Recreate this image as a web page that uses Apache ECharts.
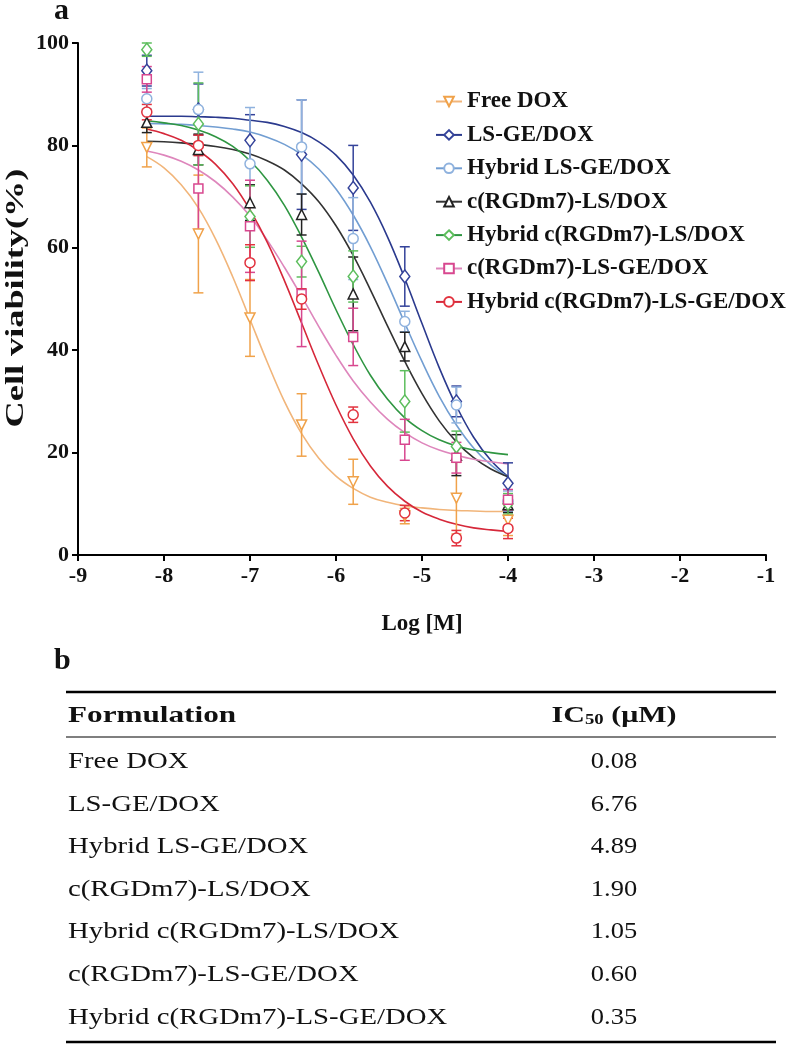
<!DOCTYPE html>
<html>
<head>
<meta charset="utf-8">
<script src="https://cdn.jsdelivr.net/npm/echarts@6/dist/echarts.min.js"></script>
<style>
html,body{margin:0;padding:0;background:#fff;}
#chart{width:800px;height:1045px;}
</style>
</head>
<body>
<div id="chart"></div>
<script>
// ---------- DATA ----------
const seriesNames = ['Free DOX', 'LS-GE/DOX', 'Hybrid LS-GE/DOX', 'c(RGDm7)-LS/DOX',
  'Hybrid c(RGDm7)-LS/DOX', 'c(RGDm7)-LS-GE/DOX', 'Hybrid c(RGDm7)-LS-GE/DOX'];
const logConc = [-8.2, -7.6, -7.0, -6.4, -5.8, -5.2, -4.6, -4.0];

const viabFreeDOX      = [79.6, 62.7, 46.3, 25.4, 14.3, 7.6, 11.1, 6.8];
const viabLSGE         = [94.6, 87.0, 81.0, 78.2, 71.7, 54.4, 30.0, 14.0];
const viabHybLSGE      = [89.1, 87.0, 76.4, 79.7, 61.8, 45.6, 29.3, 10.5];
const viabRGDLS        = [84.5, 79.2, 68.8, 66.5, 51.0, 40.7, 19.5, 9.8];
const viabHybRGDLS     = [98.7, 84.2, 66.1, 57.3, 54.4, 30.0, 21.2, 10.0];
const viabRGDLSGE      = [92.9, 71.6, 64.2, 51.0, 42.6, 22.5, 19.0, 10.8];
const viabHybRGDLSGE   = [86.5, 80.0, 57.1, 50.0, 27.4, 8.2, 3.3, 5.2];

const errFreeDOX       = [3.8, 11.5, 7.5, 6.1, 4.4, 1.5, 7.0, 3.0];
const errLSGE          = [3.0, 5.0, 5.0, 10.7, 8.3, 5.8, 3.0, 4.0];
const errHybLSGE       = [2.0, 7.3, 11.0, 9.2, 8.0, 2.0, 3.5, 2.0];
const errRGDLS         = [2.0, 3.0, 3.5, 4.0, 7.2, 2.8, 4.0, 1.5];
const errHybRGDLS      = [1.3, 8.0, 6.0, 3.0, 5.0, 6.0, 3.0, 2.0];
const errRGDLSGE       = [2.5, 8.0, 9.0, 10.3, 5.6, 4.0, 3.0, 2.0];
const errHybRGDLSGE    = [1.5, 2.0, 3.5, 2.0, 1.5, 1.5, 1.5, 2.0];

// fitted curves
const fitX = [-8.2, -8.0, -7.8, -7.6, -7.4, -7.2, -7.0, -6.8, -6.6, -6.4, -6.2, -6.0,
  -5.8, -5.6, -5.4, -5.2, -5.0, -4.8, -4.6, -4.4, -4.2, -4.0];
const fitFreeDOX    = [77.8,75.6,72.3,67.8,61.7,54.3,46.0,37.7,30.0,23.7,18.9,15.4,13.0,11.3,10.3,9.6,9.2,8.9,8.7,8.6,8.5,8.5];
const fitLSGE       = [85.7,85.7,85.7,85.6,85.5,85.3,84.9,84.5,83.7,82.5,80.7,78.1,74.2,68.9,62.1,54.0,45.2,36.6,29.1,23.0,18.5,15.3];
const fitHybLSGE    = [84.3,84.2,84.1,83.9,83.6,83.2,82.6,81.6,80.2,78.2,75.4,71.5,66.4,60.2,53.0,45.3,37.8,31.0,25.4,20.9,17.6,15.2];
const fitRGDLS      = [80.8,80.7,80.5,80.2,79.8,79.2,78.3,77.0,75.2,72.5,69.0,64.3,58.5,51.8,44.7,37.8,31.5,26.2,22.1,19.0,16.8,15.3];
const fitHybRGDLS   = [84.8,84.4,83.9,83.0,81.7,79.8,77.0,73.2,68.3,62.1,55.2,47.9,41.1,35.1,30.4,26.8,24.3,22.5,21.3,20.5,20.0,19.6];
const fitRGDLSGE    = [78.9,78.1,76.9,75.2,72.9,69.9,66.2,61.5,56.2,50.5,44.6,39.0,34.0,29.9,26.5,23.9,21.9,20.5,19.5,18.7,18.2,17.8];
const fitHybRGDLSGE = [83.2,82.3,81.0,79.0,76.3,72.5,67.4,61.1,53.6,45.3,37.0,29.3,22.7,17.4,13.4,10.5,8.4,7.0,6.0,5.3,4.9,4.6];

const xTicks = [-9, -8, -7, -6, -5, -4, -3, -2, -1];
const yTicks = [0, 20, 40, 60, 80, 100];

// table b
const tableFormulations = seriesNames;
const tableIC50 = ['0.08', '6.76', '4.89', '1.90', '1.05', '0.60', '0.35'];

// ---------- STYLE ----------
const FONT = "'Liberation Serif', 'Times New Roman', serif";
const viabs = [viabFreeDOX, viabLSGE, viabHybLSGE, viabRGDLS, viabHybRGDLS, viabRGDLSGE, viabHybRGDLSGE];
const errs  = [errFreeDOX, errLSGE, errHybLSGE, errRGDLS, errHybRGDLS, errRGDLSGE, errHybRGDLSGE];
const fits  = [fitFreeDOX, fitLSGE, fitHybLSGE, fitRGDLS, fitHybRGDLS, fitRGDLSGE, fitHybRGDLSGE];
const markerColors = ['#F0A24A', '#34439A', '#8FB2DE', '#222222', '#5DBE5D', '#D8478F', '#E2323E'];
const curveColors  = ['#F1B57A', '#2B3A8E', '#729ED2', '#333333', '#2F9642', '#DE86BC', '#D6283A'];
const symbols = ['emptyTriangle', 'emptyDiamond', 'emptyCircle', 'emptyTriangle', 'emptyDiamond', 'emptyRect', 'emptyCircle'];
const scatterSymbols = ['triangle', 'diamond', 'circle', 'triangle', 'diamond', 'rect', 'circle'];
const rotates = [180, 0, 0, 0, 0, 0, 0];
const sizes = [[10, 10], [10, 13], [10, 10], [10, 10], [10, 13], [9, 9], [10, 10]];

const chart = echarts.init(document.getElementById('chart'), null, {renderer: 'canvas'});

const series = [];
seriesNames.forEach((name, i) => {
  series.push({
    name: name, type: 'line', smooth: 0.4, showSymbol: false,
    symbol: symbols[i], symbolRotate: rotates[i],
    data: fitX.map((x, k) => [x, fits[i][k]]),
    lineStyle: {color: curveColors[i], width: 1.6},
    itemStyle: {color: markerColors[i]},
    z: 2, silent: true
  });
});
seriesNames.forEach((name, i) => {
  const col = markerColors[i];
  series.push({
    name: name, type: 'custom', z: 3, silent: true,
    data: logConc.map((x, k) => [x, viabs[i][k], errs[i][k]]),
    encode: {x: 0, y: 1},
    renderItem: function (params, api) {
      const x = api.value(0), y = api.value(1), e = api.value(2);
      const top = api.coord([x, y + e]);
      const bot = api.coord([x, y - e]);
      const hw = 5;
      const st = {stroke: col, lineWidth: 1.5};
      return {type: 'group', children: [
        {type: 'line', shape: {x1: top[0], y1: top[1], x2: bot[0], y2: bot[1]}, style: st},
        {type: 'line', shape: {x1: top[0] - hw, y1: top[1], x2: top[0] + hw, y2: top[1]}, style: st},
        {type: 'line', shape: {x1: bot[0] - hw, y1: bot[1], x2: bot[0] + hw, y2: bot[1]}, style: st}
      ]};
    }
  });
});
seriesNames.forEach((name, i) => {
  series.push({
    name: name, type: 'scatter', z: 4, silent: true,
    symbol: scatterSymbols[i], symbolRotate: rotates[i], symbolSize: sizes[i],
    data: logConc.map((x, k) => [x, viabs[i][k]]),
    itemStyle: {color: '#ffffff', borderColor: markerColors[i], borderWidth: 1.5, opacity: 1}
  });
});

// panel letters, y-axis title, table graphics
const graphics = [];
graphics.push({type: 'text', left: 54, top: -4, style: {text: 'a', font: 'bold 30px ' + FONT, fill: '#111'}});
graphics.push({type: 'text', left: 54, top: 646, style: {text: 'b', font: 'bold 30px ' + FONT, fill: '#111'}});
graphics.push({type: 'text', x: 17, y: 298, rotation: Math.PI / 2, scaleX: 1.45,
  style: {text: 'Cell viability(%)', font: 'bold 25px ' + FONT, fill: '#111', align: 'center', verticalAlign: 'middle'}});
const tL = 66, tR = 776, colX = 614;
const SX = 1.25;
graphics.push({type: 'line', shape: {x1: tL, y1: 692, x2: tR, y2: 692}, style: {stroke: '#000', lineWidth: 2.5}});
graphics.push({type: 'line', shape: {x1: tL, y1: 737, x2: tR, y2: 737}, style: {stroke: '#000', lineWidth: 1.2}});
graphics.push({type: 'line', shape: {x1: tL, y1: 1042, x2: tR, y2: 1042}, style: {stroke: '#000', lineWidth: 2.5}});
graphics.push({type: 'text', x: 68, y: 716, scaleX: 1.3, style: {text: 'Formulation', font: 'bold 24px ' + FONT, fill: '#111', verticalAlign: 'middle'}});
graphics.push({type: 'text', x: colX, y: 716, scaleX: SX, style: {
  text: '{b|IC}{s|50}{b| (μM)}', align: 'center', verticalAlign: 'middle', fill: '#111',
  rich: {b: {font: 'bold 24px ' + FONT, fill: '#111'}, s: {font: 'bold 15px ' + FONT, fill: '#111', padding: [9, 0, 0, 0]}}
}});
tableFormulations.forEach((f, k) => {
  const y = 762 + k * 42.6;
  graphics.push({type: 'text', x: 68, y: y, scaleX: SX, style: {text: f, font: '23px ' + FONT, fill: '#111', verticalAlign: 'middle'}});
  graphics.push({type: 'text', x: colX, y: y, scaleX: 1.15, style: {text: tableIC50[k], font: '23px ' + FONT, fill: '#111', align: 'center', verticalAlign: 'middle'}});
});

const axisCommon = {
  axisLine: {show: true, lineStyle: {color: '#000', width: 2}},
  axisTick: {show: true, inside: false, length: 6, lineStyle: {color: '#000', width: 2}},
  splitLine: {show: false},
  axisLabel: {fontFamily: FONT, fontWeight: 'bold', fontSize: 22, color: '#111'},
  nameTextStyle: {fontFamily: FONT, fontWeight: 'bold', fontSize: 23, color: '#111'}
};

const option = {
  backgroundColor: '#fff',
  animation: false,
  grid: {left: 78, right: 34, top: 43, bottom: 490, containLabel: false},
  legend: {
    data: seriesNames, orient: 'vertical', left: 430, top: 85,
    itemWidth: 26, itemHeight: 12, itemGap: 10.4,
    textStyle: {fontFamily: FONT, fontWeight: 'bold', fontSize: 23, color: '#111'},
    selectedMode: false
  },
  xAxis: Object.assign({}, axisCommon, {
    type: 'value', min: xTicks[0], max: xTicks[xTicks.length - 1], interval: 1,
    name: 'Log [M]', nameLocation: 'middle', nameGap: 58,
    axisLabel: Object.assign({}, axisCommon.axisLabel, {margin: 10})
  }),
  yAxis: Object.assign({}, axisCommon, {
    type: 'value', min: yTicks[0], max: yTicks[yTicks.length - 1], interval: 20,
    axisLabel: Object.assign({}, axisCommon.axisLabel, {margin: 9})
  }),
  series: series,
  graphic: graphics
};
chart.setOption(option);
</script>
</body>
</html>
